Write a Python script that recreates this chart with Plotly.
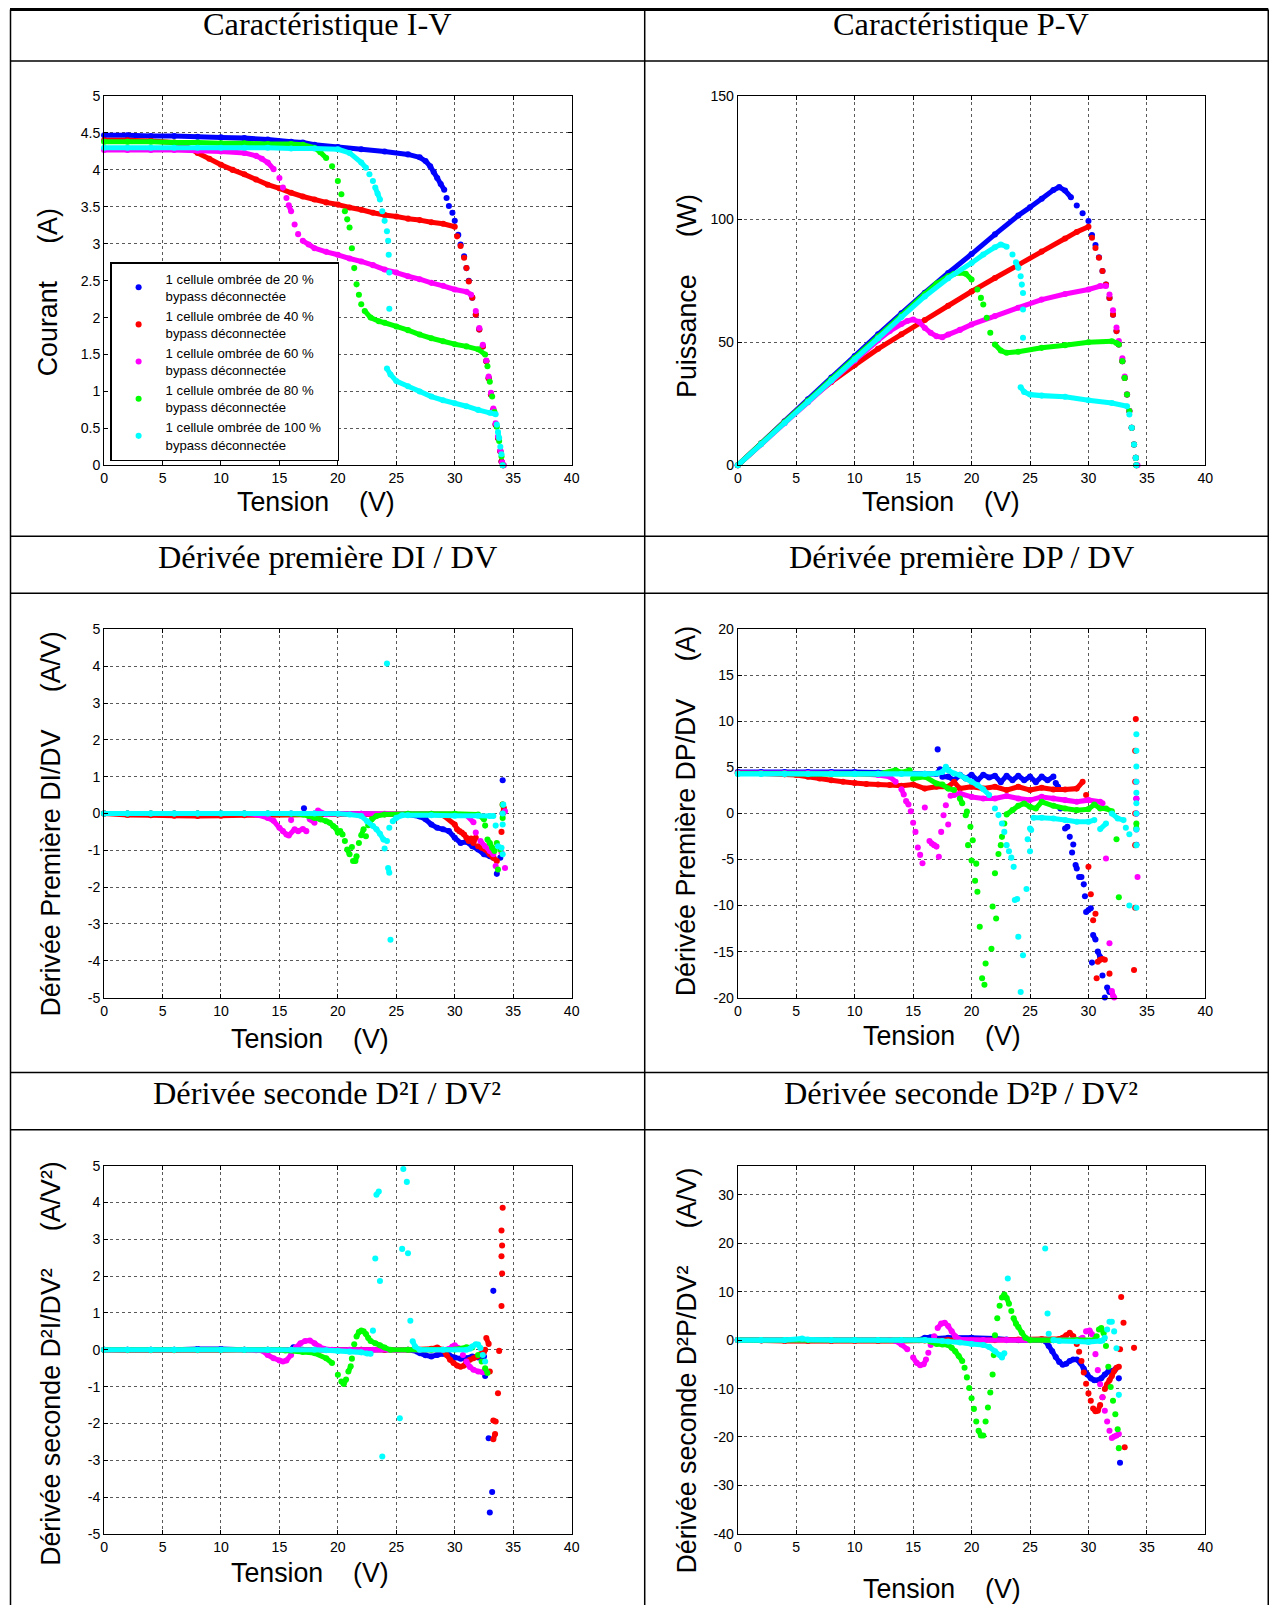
import plotly.graph_objects as go

W, H = 1277, 1613
# The photographed page comes out slightly scaled/shifted; positions below are
# given in target (reference) pixels and mapped through this calibration.
CAL_A = 0.9895
CAL_BX, CAL_BY = 4.0, 7.0
FS = 1.0 / CAL_A  # font / marker scale compensation

# ---------------- DATA ----------------
# I-V characteristic (Tension V, Courant A)
iv_v_s20 = [0,2,4,6,8,10,12,14,16,17,18,20,22,24,26,27,27.5,27.9,28.2,28.5,28.8,29.1,29.3,29.5,29.8,30.0,30.3,30.5,30.8,31.0,31.2,31.5,31.8,32.1,32.4,32.7,32.9,33.1,33.3,33.5,33.7,33.9,34.0,34.15]
iv_i_s20 = [4.47,4.47,4.46,4.46,4.45,4.44,4.43,4.41,4.38,4.37,4.34,4.31,4.28,4.25,4.21,4.17,4.12,4.05,3.97,3.89,3.81,3.73,3.62,3.51,3.42,3.31,3.12,2.99,2.83,2.67,2.50,2.27,2.04,1.84,1.61,1.41,1.18,0.96,0.75,0.55,0.37,0.19,0.05,0.0]
iv_v_s40 = [0,2,4,6,7,8,9,10,11,12,13,14,15,16,17,18,19,20,21,22,23,24,25,26,27,28,29,30,30.2,30.5,30.8,31.0,31.2,31.5,31.8,32.1,32.4,32.7,32.9,33.1,33.3,33.5,33.7,33.9,34.0,34.15]
iv_i_s40 = [4.40,4.40,4.39,4.37,4.32,4.23,4.15,4.07,4.00,3.94,3.87,3.80,3.75,3.69,3.64,3.60,3.56,3.53,3.49,3.46,3.42,3.39,3.37,3.34,3.32,3.29,3.27,3.23,3.10,2.97,2.81,2.67,2.49,2.27,2.04,1.84,1.61,1.41,1.18,0.96,0.75,0.55,0.37,0.19,0.05,0.0]
iv_v_s60 = [0,2,4,6,8,10,12,13,13.5,14,14.5,15,15.3,15.6,15.8,16.0,16.3,16.6,17.0,17.5,18,19,20,21,22,23,24,25,26,27,28,29,30,31,31.4,31.8,32.1,32.4,32.7,32.9,33.1,33.3,33.5,33.7,33.9,34.05,34.2]
iv_i_s60 = [4.27,4.27,4.27,4.27,4.26,4.25,4.23,4.19,4.15,4.10,4.01,3.89,3.76,3.62,3.52,3.44,3.26,3.13,3.04,2.99,2.94,2.89,2.85,2.80,2.76,2.71,2.65,2.61,2.56,2.52,2.47,2.43,2.38,2.35,2.31,2.09,1.86,1.63,1.42,1.20,0.98,0.77,0.57,0.39,0.20,0.04,0.0]
iv_v_s80 = [0,2,4,6,8,10,12,14,16,17,18,18.5,19,19.5,20,20.3,20.6,20.8,21.0,21.2,21.4,21.6,21.8,22.0,22.3,22.8,23.5,24,25,26,27,28,29,30,31,32,32.6,32.8,33.0,33.2,33.4,33.6,33.8,34.0,34.1]
iv_i_s80 = [4.38,4.38,4.38,4.37,4.37,4.36,4.36,4.35,4.35,4.34,4.30,4.24,4.16,4.05,3.85,3.67,3.44,3.33,3.22,2.94,2.67,2.45,2.31,2.18,2.09,2.00,1.95,1.93,1.88,1.83,1.77,1.72,1.68,1.64,1.61,1.57,1.50,1.34,1.13,0.93,0.72,0.52,0.33,0.12,0.0]
iv_v_s100 = [0,2,4,6,8,10,12,14,16,18,20,21,22,22.4,22.7,23.0,23.2,23.4,23.6,23.8,24.0,24.2,24.3,24.35,24.4,24.4,24.2,24.5,25,26,27,28,29,30,31,32,33,33.5,33.6,33.7,33.8,33.9,34.0,34.1]
iv_i_s100 = [4.30,4.30,4.30,4.30,4.30,4.30,4.30,4.30,4.29,4.29,4.28,4.23,4.10,4.03,3.94,3.85,3.76,3.68,3.60,3.44,3.31,3.17,3.04,2.85,2.61,2.12,1.31,1.23,1.14,1.07,1.00,0.93,0.88,0.84,0.80,0.75,0.71,0.69,0.55,0.45,0.37,0.25,0.15,0.0]

# P-V characteristic (Tension V, Puissance W)
pv_v_s20 = [0,2,4,6,8,10,12,14,16,18,20,22,24,25,26,27,27.5,28,28.5,29,29.5,30,30.3,30.6,30.9,31.2,31.5,31.8,32.1,32.4,32.6,32.9,33.1,33.3,33.5,33.7,33.9,34.05,34.1]
pv_p_s20 = [0,8.9,17.9,26.8,35.6,44.4,53.2,61.7,70.1,78.1,85.8,93.8,101.5,104.8,108.3,111.8,113.0,111.6,108.9,105.5,102.4,99.2,93.5,89.5,84.5,78.9,73.4,68.0,61.2,54.5,49.1,42.3,35.5,28.7,22.0,15.2,8.4,3.0,0.0]
pv_v_s40 = [0,2,4,6,8,10,12,14,16,18,20,22,24,26,28,29,30,30.3,30.6,30.9,31.2,31.5,31.8,32.1,32.4,32.6,32.9,33.1,33.3,33.5,33.7,33.9,34.05,34.1]
pv_p_s40 = [0,8.8,17.6,26.2,33.8,40.7,47.3,53.2,59.0,64.8,70.6,76.1,81.4,86.8,92.1,94.8,96.9,92.4,88.3,84.3,78.9,73.4,68.0,61.2,54.5,49.1,42.3,35.5,28.7,22.0,15.2,8.4,3.0,0.0]
pv_v_s60 = [0,2,4,6,8,10,12,13,14,14.5,15,15.5,16,16.5,17,17.5,18,19,20,22,24,26,28,30,31,31.5,31.8,32.1,32.4,32.6,32.9,33.1,33.3,33.5,33.7,33.9,34.05,34.2]
pv_p_s60 = [0,8.5,17.1,25.6,34.1,42.5,50.8,54.5,57.4,58.6,59.2,58.3,55.8,53.8,52.4,52.0,53.1,55.0,57.2,60.6,64.0,67.3,69.6,71.4,72.8,72.8,69.4,63.0,56.0,50.5,43.5,36.0,28.7,22.0,15.2,8.4,3.0,0.0]
pv_v_s80 = [0,2,4,6,8,10,12,14,16,17,18,18.5,19,19.5,20,20.5,20.8,21.0,21.3,21.6,22.0,22.5,23,24,26,28,30,32,32.4,32.6,32.9,33.1,33.3,33.5,33.7,33.9,34.05,34.1]
pv_p_s80 = [0,8.8,17.5,26.2,35.0,43.6,52.3,60.9,69.6,73.8,76.8,77.8,78.2,77.8,75.5,71.4,68.0,65.3,59.9,53.8,49.1,46.6,45.7,46.1,47.7,48.8,50.0,50.4,49.7,49.1,42.3,35.5,28.7,22.0,15.2,8.4,3.0,0.0]
pv_v_s100 = [0,2,4,6,8,10,12,14,16,18,20,21,22,22.5,23,23.5,23.8,24.0,24.2,24.3,24.4,24.4,24.4,24.2,24.5,25,26,28,30,32,33.3,33.5,33.7,33.9,34.05,34.1]
pv_p_s100 = [0,8.6,17.2,25.8,34.4,43.0,51.6,60.2,68.6,76.0,82.2,85.6,88.6,89.7,88.8,85.6,82.5,80.2,76.8,73.4,70.0,63.3,51.8,31.7,29.8,28.7,28.3,27.8,26.4,25.3,24.0,20.6,15.2,8.4,3.0,0.0]

# First derivative DI/DV
didv_v_s20 = [0,2,4,6,8,10,12,14,16,18,20,22,24,26,27,27.5,28,28.5,29,29.5,30,30.5,31,31.5,32,32.5,33,33.3,33.6,33.9,34.1,34.1,17.1]
didv_y_s20 = [0,0,0,0,0,0,0,0,0,0,-0.01,-0.01,-0.02,-0.03,-0.08,-0.16,-0.30,-0.39,-0.43,-0.48,-0.66,-0.80,-0.77,-0.89,-0.98,-1.11,-1.16,-1.20,-1.64,-1.20,0.90,0.0,0.14]
didv_v_s40 = [0,2,4,6,8,10,12,14,16,18,20,22,24,26,28,29,30,30.2,30.4,30.6,30.8,31,31.2,31.4,31.6,31.8,32,32.3,32.6,33.0,33.3,33.6,34.0,34.1,34.1,34.2]
didv_y_s40 = [0,-0.04,-0.05,-0.06,-0.07,-0.06,-0.05,-0.05,-0.04,-0.03,-0.03,-0.02,-0.02,-0.02,-0.02,-0.05,-0.30,-0.43,-0.48,-0.52,-0.57,-0.66,-0.75,-0.68,-0.80,-0.66,-0.89,-0.93,-0.98,-1.11,-1.20,-1.29,-0.50,0.24,0.0,0.15]
didv_v_s60 = [0,2,4,6,8,10,12,13,14,14.5,15,15.3,15.6,15.8,16.3,16.6,17.0,17.3,17.6,18,18.3,19,20,22,24,26,28,30,31,31.6,31.8,32.2,32.6,33.0,33.3,33.5,34.0,34.3,34.3,16.0]
didv_y_s60 = [0,0,0,0,0,0,0,-0.03,-0.12,-0.20,-0.39,-0.48,-0.57,-0.60,-0.43,-0.48,-0.42,-0.48,-0.16,-0.25,0.08,-0.02,-0.01,-0.01,-0.01,-0.01,-0.01,-0.02,-0.05,-0.24,-0.52,-0.75,-0.89,-1.02,-1.11,-1.43,-1.07,-1.48,0.06,-0.18]
didv_v_s80 = [0,2,4,6,8,10,12,14,16,17,17.5,18,18.5,19,19.3,19.6,19.8,20.0,20.2,20.4,20.6,20.8,21.0,21.2,21.3,21.5,21.6,21.8,22.0,22.2,22.4,22.6,22.9,23.3,24,26,28,30,32,32.5,32.6,32.8,33.0,33.2,33.4,33.6,33.7,33.9,34.1,34.1]
didv_y_s80 = [0,0,0,0,0,0,0,0,-0.01,-0.03,-0.07,-0.12,-0.16,-0.21,-0.25,-0.34,-0.39,-0.52,-0.48,-0.57,-0.75,-0.98,-1.11,-0.91,-1.29,-1.29,-1.16,-0.80,-0.59,-0.43,-0.62,-0.32,-0.16,-0.07,-0.03,-0.01,-0.01,-0.01,-0.03,-0.16,-0.33,-0.71,-0.80,-0.93,-1.02,-0.80,-1.52,-0.98,0.24,-0.12]
didv_v_s100 = [0,2,4,6,8,10,12,14,16,18,20,21,22,22.5,23,23.3,23.6,23.9,24.0,24.2,24.3,24.4,24.7,25,25.5,26,28,30,32,33,33.3,33.5,33.7,34.0,34.1,34.1,34.15,34.1,24.2,24.5,24.4]
didv_y_s100 = [0,0,0,0,0,0,0,0,0,0,-0.01,-0.03,-0.07,-0.21,-0.34,-0.43,-0.55,-0.71,-0.95,-0.75,-1.48,-1.61,-0.21,-0.12,-0.05,-0.05,-0.05,-0.06,-0.06,-0.07,-0.07,-0.33,-0.89,-0.93,-1.11,-0.30,0.24,0.0,4.07,-3.43,-0.39]

# First derivative DP/DV
dpdv_v_s20 = [0,2,4,6,8,10,12,14,16,17,17.3,17.5,18,18.5,19,19.5,20,20.5,21,21.5,22,22.5,23,23.5,24,24.5,25,25.5,26,26.5,27,27.2,27.4,27.6,28.0,28.2,28.4,28.6,28.7,28.9,29.0,29.2,29.4,29.6,29.7,29.8,30.0,30.2,30.3,30.4,30.6,30.8,31.0,31.2,31.4,31.6,31.8,17.1,34.1,34.1,34.1]
dpdv_y_s20 = [4.5,4.5,4.5,4.5,4.5,4.5,4.45,4.4,4.3,4.3,4.8,4.0,4.0,3.6,4.2,3.8,4.2,3.6,4.2,3.9,4.1,3.4,4.1,3.6,4.1,3.6,4.0,3.4,4.0,3.6,4.0,3.3,2.9,0.54,-1.63,-1.45,-2.54,-4.24,-3.37,-5.6,-5.98,-6.9,-6.9,-7.7,-9.0,-10.7,-10.5,-10.3,-16.2,-13.2,-13.7,-15.0,-15.6,-17.6,-20.0,-18.9,-19.4,6.96,1.6,0.0,-3.4]
dpdv_v_s40 = [0,2,4,5,6,7,8,9,10,11,12,13,14,15,16,17,18,18.5,19,20,21,22,23,24,25,26,27,28,29,29.5,29.8,30.0,30.2,30.4,30.6,30.7,30.8,31.0,31.2,31.4,31.8,34.05,34.0,34.0,34.0,34.0,34.0,33.9]
dpdv_y_s40 = [4.4,4.35,4.25,4.17,4.0,3.8,3.6,3.45,3.3,3.2,3.15,3.1,3.0,3.15,2.7,2.9,2.9,3.44,2.7,2.9,2.7,2.9,2.54,2.9,2.54,2.8,2.6,2.6,2.7,3.44,2.0,-5.8,-8.77,-11.6,-10.9,-17.9,-16.1,-15.9,-15.8,-15.9,-17.4,10.25,6.8,3.44,0.0,-3.44,-10.25,-17.0]
dpdv_v_s60 = [0,2,4,6,8,10,12,13,13.5,14,14.2,14.4,14.6,14.8,15.0,15.2,15.4,15.6,15.8,16.0,16.4,16.6,16.8,17.0,17.2,17.4,17.6,17.8,18.0,18.2,18.5,19,20,21,22,23,24,25,26,27,28,29,30,31,31.2,31.5,31.8,32.0,32.1,32.2,34.1,34.1,34.1,34.1,34.2]
dpdv_y_s60 = [4.4,4.4,4.4,4.4,4.38,4.35,4.17,4.0,3.44,2.64,2.07,1.34,0.98,0.25,-1.0,-2.0,-3.7,-4.5,-5.4,0.65,-3.0,-3.26,-3.44,-3.6,-4.7,-2.0,-0.2,0.9,-1.2,1.92,2.0,2.17,1.8,1.63,1.63,1.9,1.63,1.45,1.8,1.63,1.45,1.27,1.45,1.27,1.1,-4.9,-14.1,-19.3,-19.8,-20.0,3.44,1.63,0.0,-1.74,-6.9]
dpdv_v_s80 = [0,2,4,6,8,10,12,13.5,14,14.7,15,16,17,17.5,18,18.5,19,19.2,19.5,19.6,19.7,19.9,20.0,20.1,20.3,20.4,20.5,20.7,20.9,21.1,21.2,21.7,21.8,22.0,22.1,22.3,22.5,22.6,22.8,23,23.5,24,24.5,25,25.5,26,27,28,29,30,30.5,31,31.5,32,32.4,32.6,34.1,34.1]
dpdv_y_s80 = [4.35,4.35,4.35,4.3,4.3,4.3,4.3,4.7,4.45,4.7,3.8,4.0,3.26,3.15,2.7,2.54,1.63,1.1,-0.2,0.2,-3.44,-1.45,-5.1,-2.9,-7.3,-5.45,-8.5,-12.3,-17.9,-18.6,-16.3,-14.7,-10.1,-6.5,-11.4,-4.4,-3.44,-2.54,-1.1,-0.1,0.36,0.83,1.09,0.72,0.54,1.27,0.83,0.54,0.36,0.47,0.98,0.54,0.54,0.25,-2.8,-9.1,-1.1,-1.63]
dpdv_v_s100 = [0,2,4,6,8,10,12,14,16,17,17.5,17.8,18,18.5,19,19.5,20,20.5,21,21.5,22,22.3,22.6,22.8,23,23.2,23.4,23.6,23.7,23.9,24.0,24.2,24.4,24.7,24.8,25.0,25.0,25.1,25.3,26,27,28,29,30,30.5,31,31.5,32,32.5,33,33.2,33.5,33.5,34.1,34.1,34.1,34.1,34.1,34.1,34.1,34.1,34.1,34.1]
dpdv_y_s100 = [4.3,4.3,4.3,4.3,4.3,4.3,4.3,4.3,4.3,4.35,4.5,5.07,4.7,4.35,4.17,3.8,3.44,3.08,2.64,2.0,0.54,-0.18,-1.1,-2.0,-3.44,-4.1,-4.8,-5.8,-9.4,-9.3,-13.4,-19.4,-15.4,-8.2,-2.8,-4.1,-1.63,-1.8,-0.47,-0.47,-0.54,-0.72,-0.9,-0.9,-0.72,-1.7,-1.1,0.0,-0.54,-0.72,-1.56,-2.25,-10.0,8.6,6.8,5.1,3.44,2.25,1.1,0.0,-1.74,-3.44,-10.25]

# Second derivative D2I/DV2
d2i_v_s20 = [0,2,4,6,8,10,12,14,16,16.2,17,18,20,22,24,26,26.8,27,27.5,28,28.5,29,29.5,30,30.5,31,31.5,32,32.5,32.6,33.3,32.9,33.2,33.0]
d2i_y_s20 = [0,0,0,0,0.02,0.02,0,0,0,0.07,0,0,0,0,0,0,-0.05,-0.09,-0.15,-0.18,-0.14,-0.11,-0.14,-0.21,-0.24,-0.23,-0.18,-0.21,-0.18,-0.71,1.6,-2.4,-3.86,-4.42]
d2i_v_s40 = [0,2,4,6,8,10,12,14,16,18,20,22,24,26,28,28.5,29,29.3,29.6,29.9,30.2,30.5,30.8,31,31.3,31.6,31.9,32.2,32.5,32.6,32.7,32.9,33.0,33.3,33.5,33.3,33.45,33.7,33.8,34.0,34.05,34.0,34.05,34.0,34.1]
d2i_y_s40 = [0,-0.01,-0.01,-0.01,-0.01,-0.01,0,0,0,0,0,0,0,0,0.03,0.06,0,-0.14,-0.27,-0.36,-0.43,-0.46,-0.43,-0.33,-0.27,-0.23,-0.18,-0.12,-0.06,0.0,0.32,0.16,-0.59,-1.92,-1.95,-2.43,-2.29,-1.18,-0.03,1.19,2.07,2.54,2.83,3.24,3.86]
d2i_v_s60 = [0,2,4,6,8,10,12,13,13.5,14,14.5,15,15.3,15.6,16,16.4,16.8,17.2,17.6,18,18.4,18.8,19.5,21,23,25,27,29,29.5,29.8,30,30.3,30.7,31,31.3,31.6,32,32.4,32.7]
d2i_y_s60 = [0,0,0,0,0,0,0,-0.01,-0.02,-0.14,-0.23,-0.29,-0.32,-0.29,-0.14,0.06,0.18,0.24,0.25,0.18,0.09,0.03,0,0,0,0,0,0,0.02,0.09,0.12,0.05,-0.14,-0.32,-0.47,-0.54,-0.59,-0.61,-0.59]
d2i_v_s80 = [0,2,4,6,8,10,12,14,15,15.5,17,18,19,19.5,20,20.3,20.5,20.7,20.9,21.1,21.2,21.4,21.6,21.8,22.0,22.2,22.4,22.6,22.8,23.2,23.6,24,24.5,26,28,30,31,31.5,32,32.3,32.6,32.8]
d2i_y_s80 = [0,0,0,0,0,0,0,0,0,-0.02,-0.06,-0.09,-0.23,-0.36,-0.68,-0.86,-0.93,-0.81,-0.59,-0.45,-0.24,0.15,0.36,0.48,0.52,0.5,0.43,0.32,0.24,0.18,0.12,0.06,0,0,0,0.01,0.07,0.06,-0.14,-0.32,-0.5,-0.63]
d2i_v_s100 = [0,2,4,6,8,10,12,14,16,18,19,20,21,22,22.5,22.8,26.4,26.6,27,29,31,31.3,31.5,31.8,32.0,32.2,32.4,32.6,23.0,23.2,23.3,23.5,23.6,23.8,25.3,25.5,25.6,25.9,26.0,26.2]
d2i_y_s100 = [0,0,0,0,0,0,0,0,0,0,-0.01,-0.03,-0.05,-0.07,-0.1,-0.11,0.23,0.09,0,0,0,0.03,0.09,0.15,0.14,0.05,-0.14,-0.32,0.52,2.48,4.21,4.3,1.87,-2.9,-1.86,2.74,4.91,4.56,2.62,0.79]

# Second derivative D2P/DV2
d2p_v_s20 = [0,2,4,6,8,10,12,14,15.5,16,16.5,17,18,20,22,23,24,26,26.3,26.6,26.9,27.2,27.5,27.8,28.1,28.4,28.7,29.0,29.3,29.6,29.9,30.2,30.5,30.8,31.1,31.4,31.7,32.0,32.3,32.6,32.7]
d2p_y_s20 = [0,0,0,0,0,0,0,0,0,0.5,0.6,0.3,0.5,0.5,0.3,0.1,0,0,-0.2,-1.2,-2.3,-3.5,-4.5,-5.1,-4.9,-4.3,-4.0,-4.0,-4.7,-5.9,-7.1,-7.9,-8.3,-8.3,-7.9,-7.1,-6.5,-6.4,-6.0,-7.9,-25.3]
d2p_v_s40 = [0,2,4,6,8,10,12,14,16,18,20,22,24,26,27.5,27.8,28.1,28.4,28.7,29.0,29.2,29.4,29.6,29.8,30.0,30.2,30.4,30.6,30.8,31.0,31.2,31.4,31.6,31.8,32.0,32.2,32.4,32.6,32.7,32.8,33.0,33.1,33.9]
d2p_y_s40 = [0,-0.1,-0.2,-0.2,-0.2,-0.2,-0.2,-0.2,-0.1,0,0,0,0.1,0.2,0.2,0.5,1.0,1.5,0.8,-0.8,-2.4,-4.3,-6.7,-9.0,-11.0,-12.5,-14.1,-14.7,-14.6,-13.4,-11.8,-10.1,-9.1,-8.3,-7.4,-6.4,-5.7,-5.5,-1.9,8.9,3.6,-22.1,-1.6]
d2p_v_s60 = [0,2,4,6,8,10,12,13,13.5,14,14.5,15,15.3,15.6,15.9,16.1,16.3,16.5,16.8,17.1,17.4,17.7,18.0,18.3,18.6,19,21,23,25,27,29,29.5,29.8,30.1,30.3,30.6,30.8,31.0,31.2,31.4,31.6,31.8,32.0,32.2,32.4,32.6]
d2p_y_s60 = [0,0,0,0,0,0,0,0,-0.2,-0.9,-1.9,-3.6,-4.7,-5.2,-5.0,-4.0,-2.6,-1.0,0.8,2.5,3.4,3.6,2.9,1.8,0.8,0.1,0,0,0,0,0,0.5,1.8,2.0,1.2,-2.9,-6.2,-9.1,-11.8,-14.6,-16.8,-18.7,-20.2,-19.9,-19.7,-19.4]
d2p_v_s80 = [0,2,4,6,8,10,12,14,16,16.5,17,17.5,18,18.3,18.6,18.9,19.2,19.4,19.6,19.8,20.0,20.2,20.4,20.6,20.8,21.0,21.2,21.4,21.6,21.8,21.9,22.0,22.2,22.4,22.6,22.8,23.0,23.2,23.4,23.6,23.8,24.0,24.3,24.6,25,27,29,30.5,30.7,30.9,31.1,31.3,31.5,31.7,31.9,32.1,32.3,32.5,32.6]
d2p_y_s80 = [0,0,0,0,0,0,0,0,0,-0.3,-0.8,-0.9,-1.0,-1.6,-2.3,-3.3,-4.3,-5.7,-7.7,-9.9,-12.0,-14.2,-16.8,-18.7,-19.7,-19.7,-16.8,-13.9,-10.8,-7.1,-3.1,1.0,4.5,7.1,8.8,9.4,8.7,7.5,6.0,4.5,3.4,2.7,1.5,0.5,0,0,0,0,0.8,2.2,2.5,1.4,-1.2,-5.5,-9.7,-12.5,-15.3,-18.4,-22.3]
d2p_v_s100 = [0,2,4,5.5,6,8,10,12,14,16,17.5,18,19,20,21,21.5,22.0,22.4,22.6,22.8,26.6,27,27.5,29,30,31,31.2,31.4,31.6,31.8,32.0,32.2,32.4,32.6,23.1,26.3,26.5]
d2p_y_s100 = [0,0,0,0.3,0.1,0,0,0,0,0,-0.2,-0.3,-0.5,-0.8,-1.0,-1.4,-2.3,-3.1,-3.6,-2.7,1.3,0,-0.2,-0.3,-0.4,-0.2,-0.1,0.5,2.2,3.8,3.8,1.8,-1.7,-11.3,12.7,18.9,5.5]

# Tick labels
x_ticks = [0, 5, 10, 15, 20, 25, 30, 35, 40]
iv_ticks = [0, 0.5, 1, 1.5, 2, 2.5, 3, 3.5, 4, 4.5, 5]
pv_ticks = [0, 50, 100, 150]
didv_ticks = [-5, -4, -3, -2, -1, 0, 1, 2, 3, 4, 5]
dpdv_ticks = [-20, -15, -10, -5, 0, 5, 10, 15, 20]
d2i_ticks = [-5, -4, -3, -2, -1, 0, 1, 2, 3, 4, 5]
d2p_ticks = [-40, -30, -20, -10, 0, 10, 20, 30]

series_names = ["1 cellule ombrée de 20 %<br>bypass déconnectée",
                "1 cellule ombrée de 40 %<br>bypass déconnectée",
                "1 cellule ombrée de 60 %<br>bypass déconnectée",
                "1 cellule ombrée de 80 %<br>bypass déconnectée",
                "1 cellule ombrée de 100 %\u00a0\u00a0\u00a0<br>bypass déconnectée"]
series_colors = ["#0000ff", "#ff0000", "#ff00ff", "#00ff00", "#00ffff"]

titles = ["Caractéristique I-V", "Caractéristique P-V",
          "Dérivée première DI / DV", "Dérivée première DP / DV",
          "Dérivée seconde D²I / DV²", "Dérivée seconde D²P / DV²"]

# ---------------- LAYOUT (target pixel geometry) ----------------
NB = "\u00a0"
COLS = [(104, 571), (737, 1204)]
ROWS = [(95, 464), (628, 996), (1164, 1532)]

panels = [
    dict(col=0, row=0, yr=[0, 5], yt=iv_ticks,
         data=[(iv_v_s20, iv_i_s20), (iv_v_s40, iv_i_s40), (iv_v_s60, iv_i_s60), (iv_v_s80, iv_i_s80), (iv_v_s100, iv_i_s100)],
         ylab="Courant" + NB * 5 + "(A)", ylab_pos=(48, 291), xlab_pos=(316, 501)),
    dict(col=1, row=0, yr=[0, 150], yt=pv_ticks,
         data=[(pv_v_s20, pv_p_s20), (pv_v_s40, pv_p_s40), (pv_v_s60, pv_p_s60), (pv_v_s80, pv_p_s80), (pv_v_s100, pv_p_s100)],
         ylab="Puissance" + NB * 5 + "(W)", ylab_pos=(686, 295), xlab_pos=(940, 501)),
    dict(col=0, row=1, yr=[-5, 5], yt=didv_ticks,
         data=[(didv_v_s20, didv_y_s20), (didv_v_s40, didv_y_s40), (didv_v_s60, didv_y_s60), (didv_v_s80, didv_y_s80), (didv_v_s100, didv_y_s100)],
         ylab="Dérivée Première DI/DV" + NB * 5 + "(A/V)", ylab_pos=(51, 823), xlab_pos=(310, 1037)),
    dict(col=1, row=1, yr=[-20, 20], yt=dpdv_ticks,
         data=[(dpdv_v_s20, dpdv_y_s20), (dpdv_v_s40, dpdv_y_s40), (dpdv_v_s60, dpdv_y_s60), (dpdv_v_s80, dpdv_y_s80), (dpdv_v_s100, dpdv_y_s100)],
         ylab="Dérivée Première DP/DV" + NB * 5 + "(A)", ylab_pos=(686, 810), xlab_pos=(941, 1034)),
    dict(col=0, row=2, yr=[-5, 5], yt=d2i_ticks,
         data=[(d2i_v_s20, d2i_y_s20), (d2i_v_s40, d2i_y_s40), (d2i_v_s60, d2i_y_s60), (d2i_v_s80, d2i_y_s80), (d2i_v_s100, d2i_y_s100)],
         ylab="Dérivée seconde D²I/DV²" + NB * 5 + "(A/V²)", ylab_pos=(51, 1362), xlab_pos=(310, 1571)),
    dict(col=1, row=2, yr=[-40, 36], yt=d2p_ticks,
         data=[(d2p_v_s20, d2p_y_s20), (d2p_v_s40, d2p_y_s40), (d2p_v_s60, d2p_y_s60), (d2p_v_s80, d2p_y_s80), (d2p_v_s100, d2p_y_s100)],
         ylab="Dérivée seconde D²P/DV²" + NB * 5 + "(A/V)", ylab_pos=(686, 1369), xlab_pos=(941, 1587)),
]

XR = [0, 40]
SANS = "Liberation Sans, Arial, sans-serif"
SERIF = "Liberation Serif, Times New Roman, serif"


def fx(t):
    """target x pixel -> figure pixel"""
    return (t - CAL_BX) / CAL_A


def fy(t):
    return (t - CAL_BY) / CAL_A


def px(t):
    return min(max(fx(t), 0.0), W) / W


def py(t):
    return 1 - min(max(fy(t), 0.0), H) / H


def connected_segments(xs, ys, xr, yr, wpx, hpx):
    kx = wpx / (xr[1] - xr[0])
    ky = hpx / (yr[1] - yr[0])
    lx, ly = [], []
    for i in range(len(xs) - 1):
        dx = abs(xs[i + 1] - xs[i]) * kx
        dy = abs(ys[i + 1] - ys[i]) * ky
        if dx <= 30 and dy <= max(6, 1.2 * dx):
            lx += [xs[i], xs[i + 1], None]
            ly += [ys[i], ys[i + 1], None]
    return lx, ly


fig = go.Figure()
layout = {}
annotations = []

for k, p in enumerate(panels):
    n = "" if k == 0 else str(k + 1)
    xa, ya = "x" + n, "y" + n
    x0, x1 = COLS[p["col"]]
    y0, y1 = ROWS[p["row"]]
    axis_common = dict(showgrid=True, gridcolor="#5a5a5a", griddash="dot", gridwidth=1,
                       showline=True, linecolor="black", linewidth=1, mirror="ticks",
                       ticks="inside", ticklen=4, tickcolor="black", zeroline=False,
                       tickfont=dict(family=SANS, size=14 * FS, color="black"), fixedrange=True)
    layout["xaxis" + n] = dict(domain=[px(x0), px(x1)], range=XR, anchor=ya,
                               tickvals=x_ticks, ticktext=[str(t) for t in x_ticks], **axis_common)
    layout["yaxis" + n] = dict(domain=[py(y1), py(y0)], range=p["yr"], anchor=xa,
                               tickvals=p["yt"], ticktext=[("%g" % t) for t in p["yt"]], **axis_common)
    for s, (xs, ys) in enumerate(p["data"]):
        assert len(xs) == len(ys)
        col = series_colors[s]
        lx, ly = connected_segments(xs, ys, XR, p["yr"], x1 - x0, y1 - y0)
        if lx:
            fig.add_trace(go.Scatter(x=lx, y=ly, xaxis=xa, yaxis=ya, mode="lines",
                                     line=dict(color=col, width=5 * FS), showlegend=False,
                                     hoverinfo="skip", cliponaxis=False))
        fig.add_trace(go.Scatter(x=xs, y=ys, xaxis=xa, yaxis=ya, mode="markers",
                                 marker=dict(color=col, size=6 * FS, line=dict(width=0)),
                                 name=series_names[s], showlegend=(k == 0), cliponaxis=False))
    annotations.append(dict(text=p["ylab"], x=px(p["ylab_pos"][0]), y=py(p["ylab_pos"][1]),
                            xref="paper", yref="paper", showarrow=False, textangle=-90,
                            xanchor="center", yanchor="middle",
                            font=dict(family=SANS, size=26.5 * FS, color="black")))
    annotations.append(dict(text="Tension" + NB * 4 + "(V)", x=px(p["xlab_pos"][0]), y=py(p["xlab_pos"][1]),
                            xref="paper", yref="paper", showarrow=False,
                            xanchor="center", yanchor="middle",
                            font=dict(family=SANS, size=26.5 * FS, color="black")))

# cell titles
title_pos = [(327, 23), (960, 23), (327, 556), (960, 556), (327, 1091), (960, 1091)]
for t, (tx, ty) in zip(titles, title_pos):
    annotations.append(dict(text=t, x=px(tx), y=py(ty), xref="paper", yref="paper", showarrow=False,
                            xanchor="center", yanchor="middle",
                            font=dict(family=SERIF, size=32 * FS, color="black")))

# table borders
shapes = []
top_paper = 1 - 1.5 / H
right_paper = 1 - 0.75 / W
shapes.append(dict(type="line", xref="paper", yref="paper", x0=px(10), x1=right_paper,
                   y0=top_paper, y1=top_paper, line=dict(color="black", width=3)))
for hy in [60, 535, 592, 1071, 1128]:
    shapes.append(dict(type="line", xref="paper", yref="paper", x0=px(10), x1=right_paper, y0=py(hy), y1=py(hy),
                       line=dict(color="black", width=1.5)))
for vxp in [px(10.5), px(644), right_paper]:
    shapes.append(dict(type="line", xref="paper", yref="paper", x0=vxp, x1=vxp, y0=top_paper, y1=0,
                       line=dict(color="black", width=1.5)))

fig.update_layout(
    width=W, height=H, margin=dict(l=0, r=0, t=0, b=0),
    paper_bgcolor="white", plot_bgcolor="white",
    annotations=annotations, shapes=shapes,
    showlegend=True,
    legend=dict(x=px(110), y=py(261), xanchor="left", yanchor="top",
                bgcolor="white", bordercolor="black", borderwidth=1.5,
                font=dict(family=SANS, size=13 * FS, color="black"),
                itemwidth=44, tracegroupgap=0),
    **layout,
)

fig.write_html("out.html", include_plotlyjs=True, config={"displayModeBar": False},
               post_script="document.body.style.margin='0';")
